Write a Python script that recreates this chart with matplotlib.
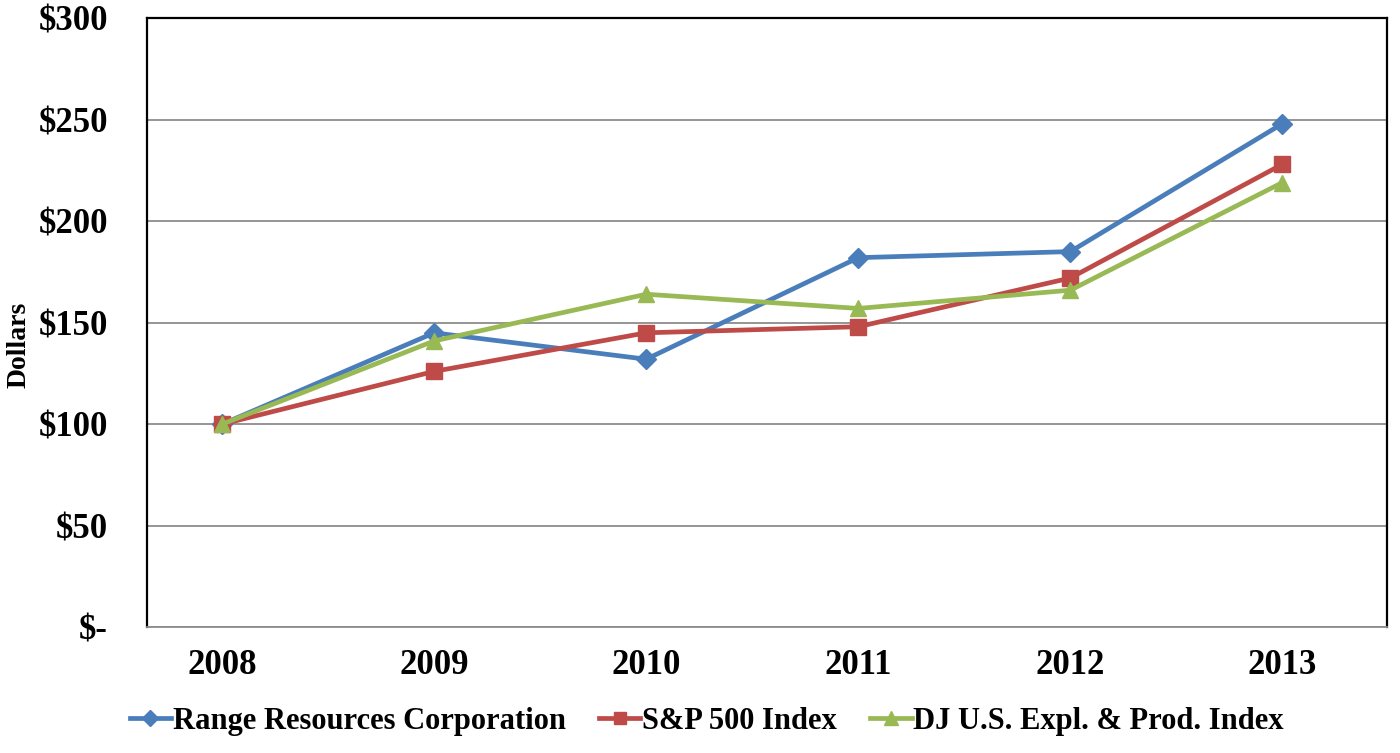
import matplotlib
matplotlib.use("Agg")
import matplotlib.pyplot as plt
import numpy as np

years = ["2008", "2009", "2010", "2011", "2012", "2013"]
range_res = [100, 145, 132, 182, 185, 248]
sp500 = [100, 126, 145, 148, 172, 228]
dj_ep = [100, 141, 164, 157, 166, 219]

series = [
    ("Range Resources Corporation", range_res, "#4a7ebb", "D", 10),
    ("S&P 500 Index", sp500, "#be4b48", "s", 11),
    ("DJ U.S. Expl. & Prod. Index", dj_ep, "#98b954", "^", 12),
]

plt.rcParams["font.family"] = ["Liberation Serif", "DejaVu Serif"]
plt.rcParams["font.weight"] = "bold"

fig = plt.figure(figsize=(14, 7.53), dpi=100)
ax = fig.add_axes([0.105, 0.167, 0.886, 0.809])

x = np.arange(len(years))
for name, vals, color, marker, ms in series:
    ax.plot(x, vals, color=color, lw=3.4, marker=marker, markersize=ms, label=name)

ax.set_ylim(0, 300)
ax.set_xlim(-0.354, 5.495)
ax.set_yticks(range(0, 301, 50))
ax.set_yticklabels(["$-"] + [f"${v}" for v in range(50, 301, 50)])
ax.set_xticks(x)
ax.set_xticklabels(years)
ax.tick_params(axis="both", length=0, labelsize=25)
ax.tick_params(axis="x", pad=16)
ax.tick_params(axis="y", pad=28)
ax.yaxis.grid(True, color="#8c8c8c", lw=1.3)
ax.set_axisbelow(True)
for s in ["left", "top", "right"]:
    ax.spines[s].set_color("black")
    ax.spines[s].set_linewidth(1.6)
ax.spines["bottom"].set_color("#8c8c8c")
ax.spines["bottom"].set_linewidth(1.3)
ax.set_ylabel("Dollars", fontsize=20, fontweight="bold")
ax.yaxis.set_label_coords(-0.093, 0.463)

leg = ax.legend(loc="center left", bbox_to_anchor=(-0.036, -0.155), ncol=3, frameon=False,
                fontsize=22, handlelength=1.35, handletextpad=0.05, columnspacing=1.1,
                markerscale=0.85)

fig.savefig("out.png", dpi=100)
